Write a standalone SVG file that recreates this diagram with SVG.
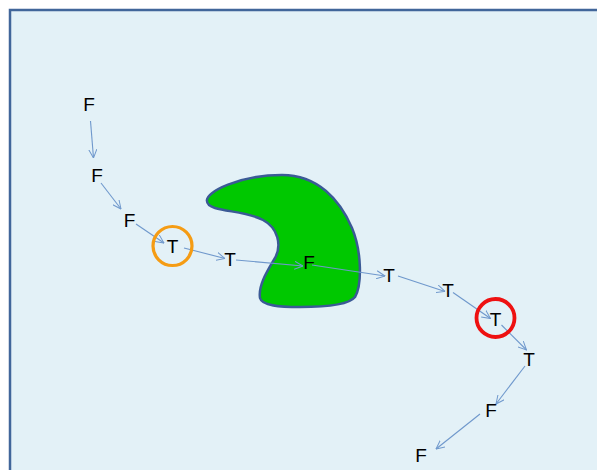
<svg xmlns="http://www.w3.org/2000/svg" width="597" height="470" viewBox="0 0 597 470">
<style>
.lbl{font-family:"Liberation Sans",Arial,sans-serif;font-size:19px;fill:#000;text-anchor:middle}
.arr{stroke:#6f98cc;stroke-width:1.1;fill:none;marker-end:url(#ah)}
</style>
<defs>
<marker id="ah" viewBox="0 0 10 10" refX="9.5" refY="5" markerWidth="9" markerHeight="9" markerUnits="userSpaceOnUse" orient="auto">
<path d="M0,0.5 L9.5,5 L0,9.5" fill="none" stroke="#6f98cc" stroke-width="1.1"/>
</marker>
</defs>
<rect x="0" y="0" width="597" height="470" fill="#fff"/>
<rect id="frame" x="10" y="10" width="600" height="480" fill="#e3f1f7" stroke="#41669a" stroke-width="2.5"/>
<g id="blob">
<path d="M207,201 C205,192 240,175 282,175 C318,175 340,200 352,228 C362,252 362,285 355,297 C348,306 320,307 300,307 C280,307 262,306 260,298 C258,285 268,270 275,258 C282,245 278,228 263,220 C248,212 228,212 215,208 C209,206 207,204 207,201 Z" fill="#00c800" stroke="#3b5a96" stroke-width="2.5"/>
</g>
<g id="connectors">
<line class="arr" x1="90.5" y1="121" x2="93.5" y2="158"/>
<line class="arr" x1="101" y1="183" x2="121" y2="209"/>
<line class="arr" x1="136" y1="224" x2="164" y2="243"/>
<line class="arr" x1="184" y1="248" x2="225" y2="258.5"/>
<line class="arr" x1="236" y1="260" x2="303" y2="266"/>
<line class="arr" x1="312" y1="265" x2="385" y2="276"/>
<line class="arr" x1="398" y1="276" x2="445" y2="291.5"/>
<line class="arr" x1="453" y1="292.5" x2="490.5" y2="318.5"/>
<line class="arr" x1="501.5" y1="325" x2="526.5" y2="350"/>
<line class="arr" x1="525" y1="366" x2="496" y2="404"/>
<line class="arr" x1="480" y1="414" x2="436" y2="449"/>
</g>
<g id="n1"><text class="lbl" x="89" y="110.5">F</text></g>
<g id="n2"><text class="lbl" x="97" y="181.5">F</text></g>
<g id="n3"><text class="lbl" x="129.5" y="226.5">F</text></g>
<g id="n4"><circle cx="172.5" cy="246" r="19.5" fill="none" stroke="#f59c14" stroke-width="3.2"/><text class="lbl" x="172.5" y="252.5">T</text></g>
<g id="n5"><text class="lbl" x="230" y="265.5">T</text></g>
<g id="n6"><text class="lbl" x="309" y="268.5">F</text></g>
<g id="n7"><text class="lbl" x="389" y="281.5">T</text></g>
<g id="n8"><text class="lbl" x="448" y="296.5">T</text></g>
<g id="n9"><circle cx="495.5" cy="318" r="19" fill="none" stroke="#ee1111" stroke-width="3.8"/><text class="lbl" x="495.5" y="325.5">T</text></g>
<g id="n10"><text class="lbl" x="529" y="365.5">T</text></g>
<g id="n11"><text class="lbl" x="491" y="416.5">F</text></g>
<g id="n12"><text class="lbl" x="421" y="461.5">F</text></g>
</svg>
